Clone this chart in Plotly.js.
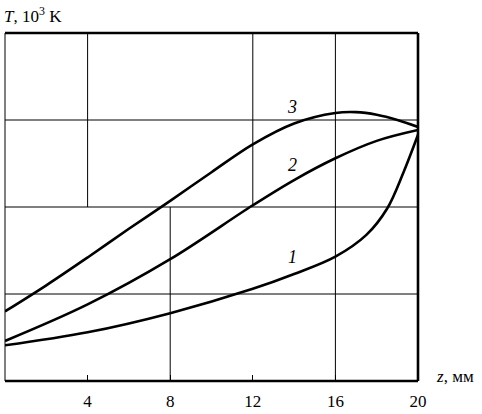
<!DOCTYPE html>
<html><head><meta charset="utf-8">
<script src="https://cdn.plot.ly/plotly-3.0.1.min.js"></script>
<style>body{margin:0;background:#fff}#c{width:482px;height:414px}</style>
</head><body><div id="c"></div>
<script>
// z, mm
const z1 = [0, 4, 8, 12, 14, 16, 17.5, 18.5, 19.3, 20];
const t1 = [0.41, 0.56, 0.78, 1.06, 1.23, 1.43, 1.68, 1.98, 2.4, 2.83];
const z2 = [0, 4, 8, 12, 14, 16, 18, 20];
const t2 = [0.46, 0.88, 1.40, 2.02, 2.31, 2.56, 2.76, 2.885];
const z3 = [0, 2, 4, 6, 8, 10, 12, 14, 16, 17, 18, 19, 20];
const t3 = [0.80, 1.10, 1.42, 1.75, 2.07, 2.40, 2.72, 2.96, 3.08, 3.09, 3.06, 3.0, 2.92];
const xTicks = [4, 8, 12, 16, 20];
const curveLabels = ['1', '2', '3'];
const labelPos = [[13.9, 1.42], [13.9, 2.48], [13.9, 3.15]];

const line = {color: '#000', width: 2.6, shape: 'spline', smoothing: 1};
const traces = [[z1, t1], [z2, t2], [z3, t3]].map(([x, y]) => ({
  x, y, type: 'scatter', mode: 'lines', line, hoverinfo: 'skip', showlegend: false
}));

const thin = {color: '#000', width: 1};
const thick = {color: '#000', width: 2.6};
const shapes = [];
[1, 2, 3].forEach(v => shapes.push({type: 'line', xref: 'x', yref: 'y', x0: 0, x1: 20, y0: v, y1: v, line: thin, layer: 'below'}));
[[4, 2, 4], [8, 0, 2], [12, 2, 4], [16, 0, 4]].forEach(([x, a, b]) =>
  shapes.push({type: 'line', xref: 'x', yref: 'y', x0: x, x1: x, y0: a, y1: b, line: thin, layer: 'below'}));
shapes.push({type: 'line', xref: 'paper', yref: 'paper', x0: 0, x1: 0, y0: 0, y1: 1, line: thin});
shapes.push({type: 'line', xref: 'paper', yref: 'paper', x0: 0, x1: 1, y0: 1, y1: 1, line: thick});
shapes.push({type: 'line', xref: 'paper', yref: 'paper', x0: 1, x1: 1, y0: 0, y1: 1, line: thick});
shapes.push({type: 'line', xref: 'paper', yref: 'paper', x0: 0, x1: 1, y0: 0, y1: 0, line: thick});

const serif = '"Liberation Serif", "Times New Roman", serif';
const annotations = curveLabels.map((t, i) => ({
  x: labelPos[i][0], y: labelPos[i][1], xref: 'x', yref: 'y', text: '<i>' + t + '</i>',
  showarrow: false, font: {family: serif, size: 18, color: '#000'}
}));
annotations.push({x: 0, y: 1, xref: 'paper', yref: 'paper', xanchor: 'left', yanchor: 'bottom', yshift: 5, xshift: -3,
  text: '<i>T</i>, 10<sup>3</sup> K', showarrow: false, font: {family: serif, size: 17, color: '#000'}});
annotations.push({x: 1, y: 0, xref: 'paper', yref: 'paper', xanchor: 'left', yanchor: 'middle', xshift: 16, yshift: 5,
  text: '<i>z</i>, мм', showarrow: false, font: {family: serif, size: 17, color: '#000'}});

const layout = {
  width: 482, height: 414,
  margin: {l: 5, r: 64, t: 33, b: 33},
  paper_bgcolor: '#fff', plot_bgcolor: '#fff',
  font: {family: serif, color: '#000'},
  xaxis: {range: [0, 20], tickvals: xTicks, ticktext: xTicks.map(String), ticks: 'inside', ticklen: 6, tickwidth: 1, tickcolor: '#000',
    showgrid: false, zeroline: false, showline: false, ticklabelstandoff: 8,
    tickfont: {family: serif, size: 17, color: '#000'}},
  yaxis: {range: [0, 4], showticklabels: false, showgrid: false, zeroline: false, showline: false, ticks: ''},
  shapes, annotations
};
Plotly.newPlot('c', traces, layout, {staticPlot: true, displayModeBar: false});
</script></body></html>
